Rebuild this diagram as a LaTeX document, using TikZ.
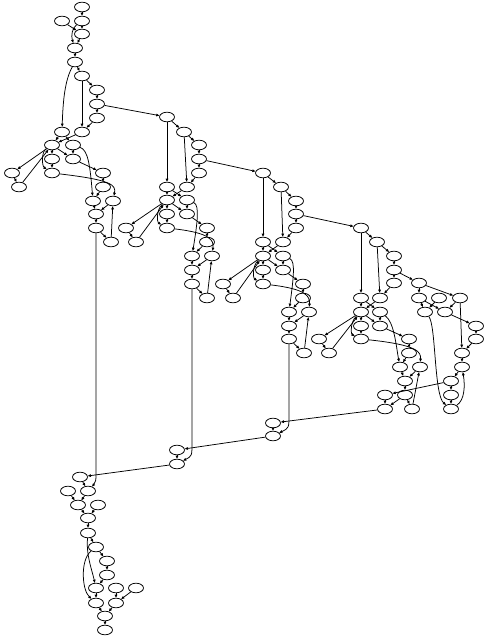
\documentclass[tikz,border=0pt]{standalone}
\usetikzlibrary{shapes.geometric,arrows.meta}
\tikzset{
  nd/.style={ellipse,draw,line width=0.75pt,minimum width=15pt,minimum height=9.6pt,inner sep=0pt},
  ar/.style={-{Triangle[length=3.2pt,width=2.6pt]},line width=0.75pt}
}
\begin{document}
\begin{tikzpicture}[x=1pt,y=-1pt]
\fill[white] (0,0) rectangle (484,643);
\useasboundingbox (0,0) rectangle (484,643);
\foreach \n/\x/\y in {
A0/62/21, A1/82/7, A2/82/21, A3/82/34, A4/75/48, A5/75/62, A6/82/76, A7/97/90, A8/97/104, A9/97/118,
B1/62/132, B2/82/132, B3/52/145, B4/73/145, B5/52/159, B6/73/159, B7/12/173, B8/52/173, B9/19/187,
B10/103/173, B11/103/187, B12/93/201, B13/113/201, B14/96/214, B15/96/228, B16/111/242,
C0/167/117, C1/184/132, C2/199/145, C3/199/159, C4/199/173,
C5/167/187, C6/187/187, C7/167/200, C8/187/200, C9/167/214, C10/187/214, C11/126/228, C12/167/228,
C13/207/228, C14/136/242, C15/207/242, C16/192/256, C17/212/256, C18/192/270, C19/192/284, C20/207/298,
D0/263/173, D1/281/187, D2/296/201, D3/296/214, D4/296/228,
D5/263/242, D6/283/242, D7/263/256, D8/283/256, D9/263/270, D10/283/270, D11/223/284, D12/263/284,
D13/303/284, D14/233/298, D15/303/298, D16/289/312, D17/309/312, D18/289/326, D19/289/339, D20/304/353,
E0/361/228, E1/377/242, E2/394/256, E3/394/270, E4/394/283,
E5/361/298, E6/380/298, E7/361/312, E8/380/312, E9/361/326, E10/380/326, E11/319/339, E12/361/339,
E13/409/339, E14/329/353, E15/409/353, E16/400/367, E17/420/367, E18/405/381, E19/385/395, E20/405/395,
E21/385/409, E22/412/409,
F0/419/283, F1/419/298, F2/439/298, F3/460/298, F4/425/312, F5/445/312, F6/476/326, F7/476/339,
F8/462/353, F9/462/367, F10/451/381, F11/451/395, F12/451/409,
G0/273/423, G1/273/436, H0/177/450, H1/177/464,
I0/80/477, I1/88/491, I2/68/491, I3/78/505, I4/98/505, I5/88/518, I6/88/533, I7/96/547, I8/107/561,
I9/107/575, I10/96/588, I11/116/588, I12/136/588, I13/96/603, I14/116/603, I15/105/616, I16/105/630}
  \node[nd] (\n) at (\x,\y) {};
\foreach \a/\b in {
A1/A2, A2/A3, A0/A3, A3/A4, A4/A5, A5/A6, A6/B2, A6/A7, A7/A8, A8/A9, A8/C0, A9/B2,
B1/B3, B2/B3, B1/B4, B3/B5, B4/B6, B3/B6, B3/B7, B9/B3, B7/B9, B5/B8, B6/B10, B10/B11, B11/B12,
B12/B14, B13/B14, B14/B15, B15/B16, B16/B13,
C0/C1, C1/C2, C2/C3, C3/C4, C3/D0, C0/C5, C1/C6, C4/C6, C5/C7, C6/C7, C5/C8, C7/C9, C8/C10, C7/C10,
C7/C11, C14/C7, C11/C14, C9/C12, C10/C13, C13/C15, C15/C16, C16/C18, C17/C18, C18/C19, C19/C20, C20/C17,
D0/D1, D1/D2, D2/D3, D3/D4, D3/E0, D0/D5, D1/D6, D4/D6, D5/D7, D6/D7, D5/D8, D7/D9, D8/D10, D7/D10,
D7/D11, D14/D7, D11/D14, D9/D12, D10/D13, D13/D15, D15/D16, D16/D18, D17/D18, D18/D19, D19/D20, D20/D17,
E0/E1, E1/E2, E2/E3, E3/E4, E3/F0, E0/E5, E1/E6, E4/E6, E5/E7, E6/E7, E5/E8, E7/E9, E8/E10, E7/E10,
E7/E11, E14/E7, E11/E14, E9/E12, E10/E13, E13/E15, E15/E16, E16/E18, E17/E18, E18/E20, E20/E22,
E22/E17, E20/E21, E19/E21, E21/G0, F10/E19,
F0/F1, F0/F3, F1/F4, F2/F4, F1/F5, F3/F5, F5/F6, F3/F8, F6/F7, F7/F8, F8/F9, F9/F10, F10/F11, F11/F12,
G0/G1, G1/H0, H0/H1, H1/I0, I0/I1,
I2/I3, I1/I3, I4/I5, I3/I5, I5/I6, I6/I7, I7/I8, I8/I9, I9/I10, I10/I13, I11/I14, I12/I14, I13/I15,
I14/I15, I15/I16}
  \draw[ar] (\a) -- (\b);
% curved connectors
\draw[ar] (A2) .. controls (72,28) and (71,36) .. (A4);
\draw[ar] (A5) .. controls (65,80) and (63,100) .. (B1);
\draw[ar] (B3) .. controls (41,152) and (42,166) .. (B8);
\draw[ar] (B4) .. controls (88,150) and (90,165) .. (B12);
\draw[ar] (B8) .. controls (112,180) and (116,185) .. (B13);
\draw[ar] (B15) -- (96,466) .. controls (96,482) .. (I1);
\draw[ar] (C7) .. controls (156,210) and (157,222) .. (C12);
\draw[ar] (C8) .. controls (200,205) and (197,225) .. (C16);
\draw[ar] (C12) .. controls (210,233) and (214,240) .. (C17);
\draw[ar] (C19) -- (192,442) .. controls (192,456) .. (H1);
\draw[ar] (D7) .. controls (252,266) and (253,278) .. (D12);
\draw[ar] (D8) .. controls (296,261) and (293,281) .. (D16);
\draw[ar] (D12) .. controls (306,289) and (310,296) .. (D17);
\draw[ar] (D19) -- (289,414) .. controls (289,428) .. (G1);
\draw[ar] (E7) .. controls (350,322) and (351,334) .. (E12);
\draw[ar] (E8) .. controls (394,322) and (396,345) .. (E16);
\draw[ar] (E12) .. controls (418,345) and (421,352) .. (E17);
\draw[ar] (F4) .. controls (436,325) and (434,395) .. (F12);
\draw[ar] (F12) .. controls (465,400) and (465,385) .. (F9);
\draw[ar] (I6) .. controls (86,555) and (92,570) .. (I10);
\draw[ar] (I7) .. controls (80,560) and (82,590) .. (I13);
\end{tikzpicture}
\end{document}
